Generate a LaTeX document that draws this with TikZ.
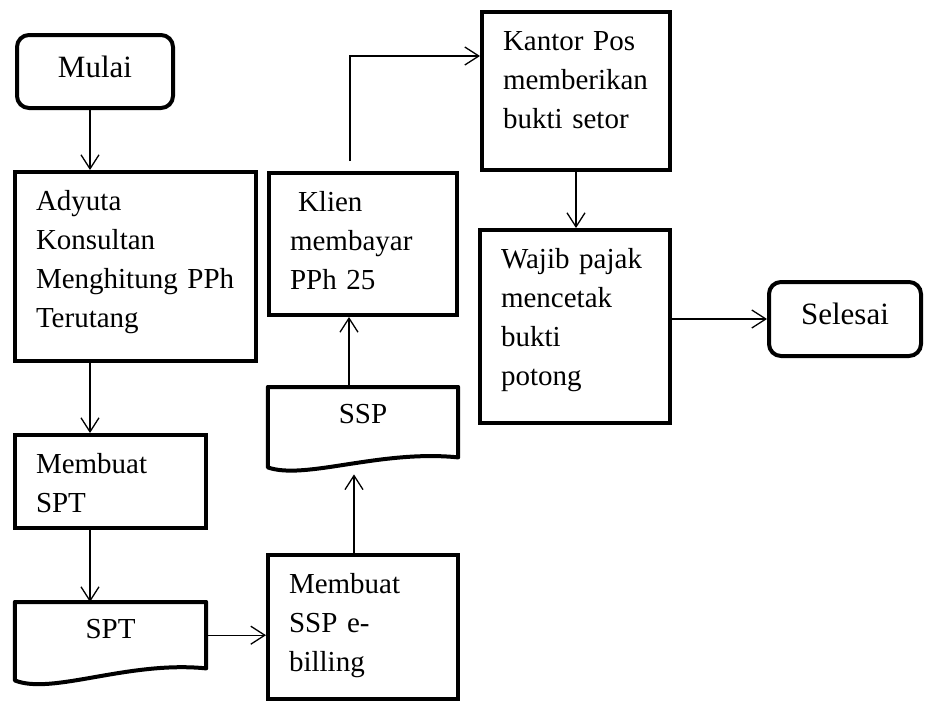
\documentclass[tikz,border=0pt]{standalone}
\usepackage{fontspec}
\setmainfont{Liberation Serif}
\usetikzlibrary{arrows.meta}
\tikzset{
  stepbox/.style={draw, line width=4pt, anchor=north west, align=left, text width=#1,
    inner xsep=21pt, inner ysep=0pt, text height=38pt, font=\fontsize{29pt}{39pt}\selectfont},
  endbox/.style={draw, line width=4pt, rounded corners=12pt, inner sep=0pt,
    text height=21pt, text depth=10pt, font=\fontsize{31pt}{39pt}\selectfont},
  docbox/.style={anchor=north, inner sep=0pt, text height=36pt, font=\fontsize{29pt}{39pt}\selectfont},
  docline/.style={line width=4pt, line join=round},
  arr/.style={line width=1.3pt, -{Straight Barb[length=14pt,width=18pt]}}
}

\begin{document}
\begin{tikzpicture}[x=1pt, y=-1pt]
\useasboundingbox (0,0) rectangle (926,704);
% Terminators
	\node[endbox, minimum width=156pt, minimum height=73pt] (mulai) at (95,71.5) {Mulai};
	\node[endbox, minimum width=152pt, minimum height=74pt] (selesai) at (845,319) {Selesai};
% Process boxes
	\node[stepbox=199pt, text depth=151pt] (adyuta) at (13,170) {Adyuta\\Konsultan\\Menghitung PPh\\Terutang};
	\node[stepbox=149pt, text depth=55pt] (spt) at (13,433) {Membuat\\SPT};
	\node[stepbox=148pt, text depth=106pt] (billing) at (266,553) {Membuat\\SSP e-\\billing};
	\node[stepbox=146pt, text depth=104pt] (klien) at (267,171) {\hspace*{8pt}Klien\\membayar\\PPh 25};
	\node[stepbox=146pt, text depth=120pt] (kantor) at (480,10) {Kantor Pos\\memberikan\\bukti setor};
	\node[stepbox=148pt, text depth=155pt] (wajib) at (478,228) {Wajib pajak\\mencetak\\bukti\\potong};
% Documents
	\node[docbox, minimum width=191pt, text depth=30pt] (sptdoc) at (110.5,602) {SPT};
	\node[docbox, minimum width=190pt, text depth=34pt] (sspdoc) at (363,387) {SSP};
	\draw[docline] ([yshift=-12pt]sptdoc.south west) .. controls +(37,15) and +(-78,-8) .. (sptdoc.south east)
		-- (sptdoc.north east) -- (sptdoc.north west) -- cycle;
	\draw[docline] ([yshift=-10pt]sspdoc.south west) .. controls +(37,13) and +(-78,-8) .. (sspdoc.south east)
		-- (sspdoc.north east) -- (sspdoc.north west) -- cycle;
% Flow
	\draw[arr] ([xshift=-5pt]mulai.south) -- ([xshift=-5pt]mulai.south |- adyuta.north);
	\draw[arr] ([xshift=-20.5pt]spt.north |- adyuta.south) -- ([xshift=-20.5pt]spt.north);
	\draw[arr] ([xshift=-20.5pt]spt.south) -- ([xshift=-20.5pt]sptdoc.north);
	\draw[arr] (sptdoc.east) -- (sptdoc.east -| billing.west);
	\draw[arr] ([xshift=-9pt]billing.north) -- ([xshift=-9pt,yshift=-17pt]sspdoc.south);
	\draw[arr] ([xshift=-14pt]sspdoc.north) -- ([xshift=-14pt]sspdoc.north |- klien.south);
	\draw[arr] ([xshift=-13pt,yshift=10pt]klien.north) |- ([yshift=35pt]kantor.west);
	\draw[arr] (kantor.south) -- (kantor.south |- wajib.north);
	\draw[arr] (wajib.east |- selesai.west) -- (selesai.west);
\end{tikzpicture}
\end{document}
